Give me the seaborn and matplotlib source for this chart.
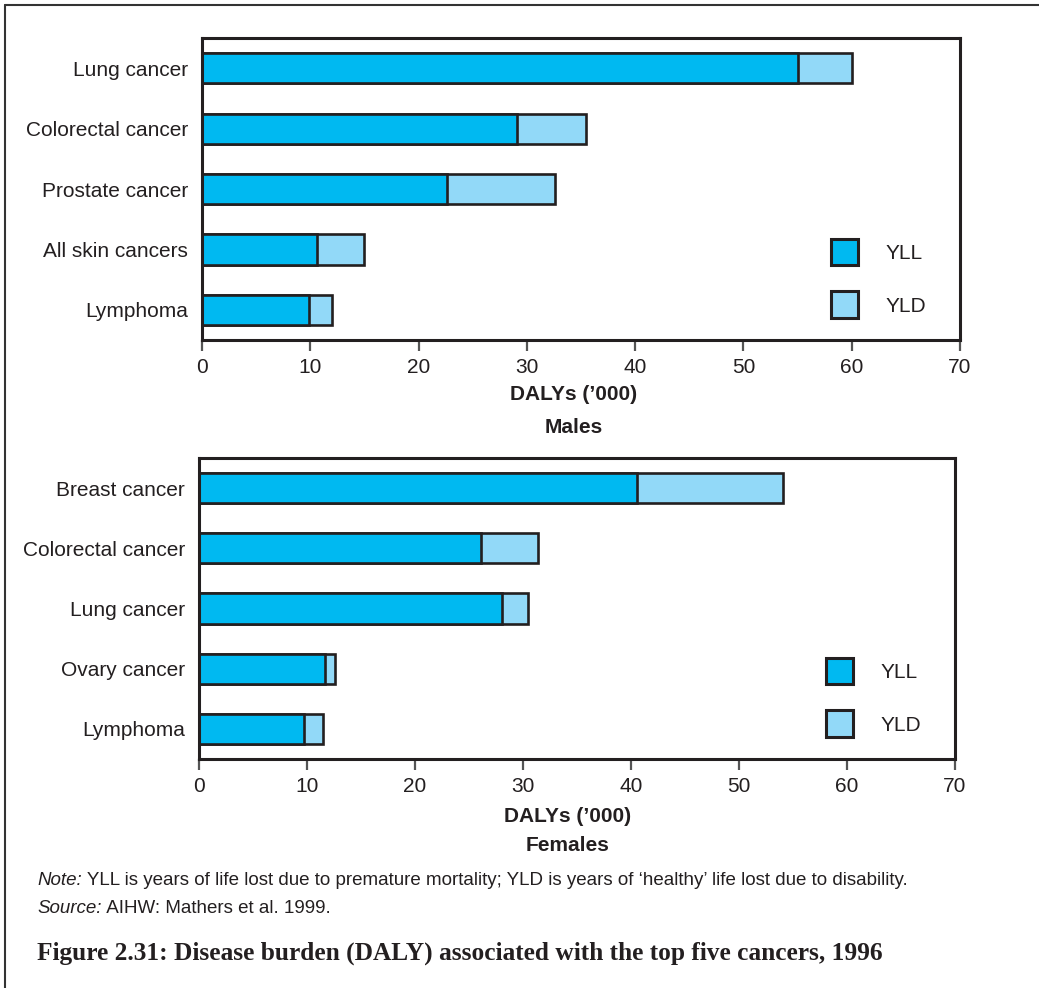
import matplotlib
matplotlib.use("Agg")
import matplotlib.pyplot as plt
from matplotlib.patches import Patch
from matplotlib.lines import Line2D
import seaborn as sns
import pandas as pd

# DALYs ('000)
male_causes = ["Lung cancer", "Colorectal cancer", "Prostate cancer", "All skin cancers", "Lymphoma"]
male_yll = [55.0, 29.1, 22.6, 10.6, 9.9]
male_yld = [5.0, 6.4, 10.0, 4.4, 2.1]

female_causes = ["Breast cancer", "Colorectal cancer", "Lung cancer", "Ovary cancer", "Lymphoma"]
female_yll = [40.6, 26.1, 28.1, 11.7, 9.7]
female_yld = [13.5, 5.3, 2.4, 0.9, 1.8]

x_ticks = [0, 10, 20, 30, 40, 50, 60, 70]

YLL_COLOR = "#00B9F1"
YLD_COLOR = "#92D9F8"
EDGE = "#231F20"

sns.set_theme(style="white")
plt.rcParams['font.family'] = ['Liberation Sans', 'DejaVu Sans']

W, H = 1039, 988
fig = plt.figure(figsize=(W / 100, H / 100), dpi=100)


def px_axes(l, t, r, b):
    return fig.add_axes([l / W, 1 - b / H, (r - l) / W, (b - t) / H])


def draw_panel(ax, causes, yll, yld):
    df = pd.DataFrame({"cause": causes, "YLL": yll, "YLD": yld})
    df["total"] = df["YLL"] + df["YLD"]
    sns.barplot(data=df, x="total", y="cause", color=YLD_COLOR, saturation=1,
                edgecolor=EDGE, linewidth=1.9, width=0.5, ax=ax)
    sns.barplot(data=df, x="YLL", y="cause", color=YLL_COLOR, saturation=1,
                edgecolor=EDGE, linewidth=1.9, width=0.5, ax=ax)
    ax.set_xlim(0, 70)
    ax.set_ylim(4.5, -0.5)
    ax.set_xticks(x_ticks)
    ax.set_xticklabels([str(t) for t in x_ticks], fontsize=15, color="#231F20")
    ax.tick_params(axis="x", bottom=True, length=8, width=1.6, color="#555555", pad=5)
    ax.tick_params(axis="y", left=False, labelsize=15, labelcolor="#231F20", pad=4)
    ax.set_xlabel("")
    ax.set_ylabel("")
    for s in ax.spines.values():
        s.set_visible(True)
        s.set_color(EDGE)
        s.set_linewidth(2.2)
    handles = [Patch(facecolor=YLL_COLOR, edgecolor=EDGE, linewidth=2.2, label="YLL"),
               Patch(facecolor=YLD_COLOR, edgecolor=EDGE, linewidth=2.2, label="YLD")]
    ax.legend(handles=handles, loc="lower right", bbox_to_anchor=(0.98, 0.01), frameon=False,
              fontsize=15, handlelength=1.3, handleheight=1.6, handletextpad=1.3,
              labelspacing=1.25, labelcolor="#231F20")


ax1 = px_axes(202, 38, 960, 340)
draw_panel(ax1, male_causes, male_yll, male_yld)
ax2 = px_axes(199, 458, 955, 759)
draw_panel(ax2, female_causes, female_yll, female_yld)

tc = "#231F20"
fig.text(574 / W, 1 - 395 / H, "DALYs (\u2019000)", ha="center", va="center", fontsize=15, fontweight="bold", color=tc)
fig.text(574 / W, 1 - 427 / H, "Males", ha="center", va="center", fontsize=15, fontweight="bold", color=tc)
fig.text(568 / W, 1 - 816 / H, "DALYs (\u2019000)", ha="center", va="center", fontsize=15, fontweight="bold", color=tc)
fig.text(568 / W, 1 - 845 / H, "Females", ha="center", va="center", fontsize=15, fontweight="bold", color=tc)

# notes: italic lead word followed by regular text
renderer = fig.canvas.get_renderer()


def lead_text(y, lead, rest, size=13.5):
    t = fig.text(37 / W, 1 - y / H, lead, ha="left", va="center", fontsize=size, style="italic", color=tc)
    bb = t.get_window_extent(renderer=renderer)
    fig.text(bb.x1 / W, 1 - y / H, rest, ha="left", va="center", fontsize=size, color=tc)


lead_text(880, "Note:", " YLL is years of life lost due to premature mortality; YLD is years of \u2018healthy\u2019 life lost due to disability.")
lead_text(908, "Source:", " AIHW: Mathers et al. 1999.")

fig.text(37 / W, 1 - 953 / H, "Figure 2.31: Disease burden (DALY) associated with the top five cancers, 1996",
         ha="left", va="center", fontsize=18.3, fontweight="bold", family="Liberation Serif", color=tc)

# outer frame (top and left rules)
fig.add_artist(Line2D([5 / W, 1], [1 - 5 / H, 1 - 5 / H], color="#333333", linewidth=1.5))
fig.add_artist(Line2D([5 / W, 5 / W], [1 - 5 / H, 0], color="#333333", linewidth=1.5))

fig.savefig("out.png", dpi=100)
